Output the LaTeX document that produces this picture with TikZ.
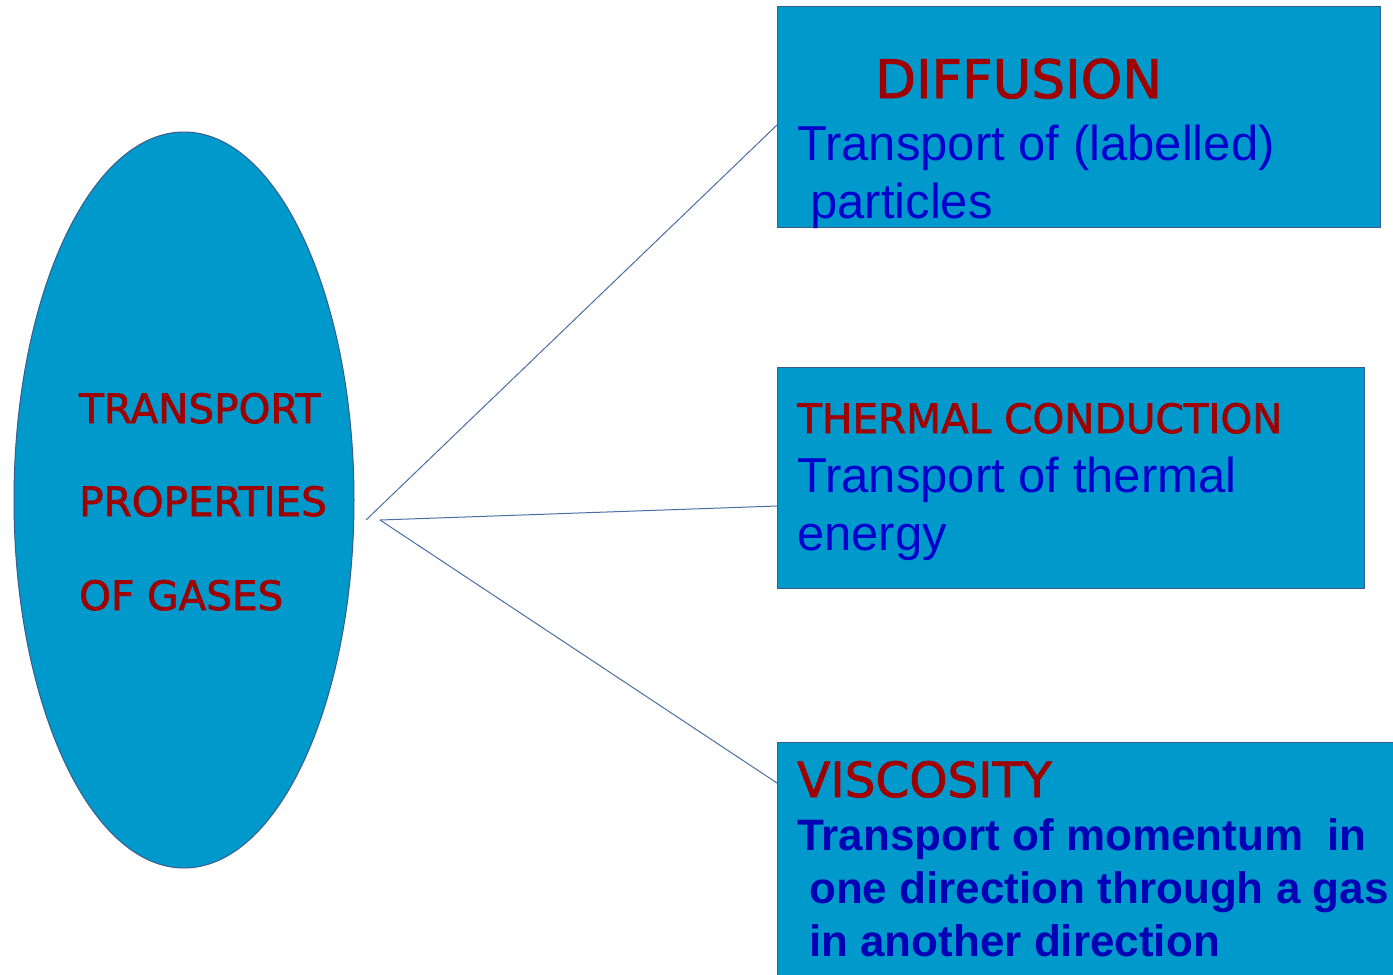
\documentclass[tikz,border=0pt]{standalone}
\usepackage{fontspec}
\setmainfont{Liberation Sans}
\newfontfamily\headfont[FakeBold=1.6]{DejaVu Sans}
\usetikzlibrary{shapes}
\usetikzlibrary{positioning}
\definecolor{boxblue}{RGB}{0,153,204}
\definecolor{edgeblue}{RGB}{56,93,138}
\definecolor{linkblue}{RGB}{74,111,165}
\definecolor{headred}{RGB}{160,0,0}
\definecolor{bodyblue}{RGB}{0,0,204}
\definecolor{boldblue}{RGB}{0,0,180}
\tikzset{
    propbox/.style = {rectangle, draw=edgeblue, fill=boxblue, line width=1pt, anchor=north west, inner sep=0pt},
    propoval/.style = {ellipse, draw=edgeblue, fill=boxblue, line width=1pt, inner sep=0pt},
    headtext/.style = {anchor=base west, inner sep=0pt, text=headred, font=\headfont\fontsize{#1}{#1}\selectfont},
    bodytext/.style = {anchor=base west, inner sep=0pt, text=bodyblue, font=\fontsize{49}{58}\selectfont},
    boldtext/.style = {anchor=base west, inner sep=0pt, text=boldblue, font=\bfseries\fontsize{44}{53}\selectfont},
    edgen/.style = {-, line width=1pt, linkblue}
}
\begin{document}
\begin{tikzpicture}[x=1pt,y=-1pt]
  \useasboundingbox[fill=white] (0,0) rectangle (1393,975);
  \clip (0,0) rectangle (1393,975);
  % central oval
  \node[propoval, minimum width=340, minimum height=736] (gas) at (184,500) {};
  \node[headtext=40.5] (t1) at (79,423) {TRANSPORT};
  \node[headtext=40.5] (t2) at (79,516) {PROPERTIES};
  \node[headtext=40.5] (t3) at (79,610) {OF GASES};
  % boxes
  \node[propbox, minimum width=603, minimum height=221] (diff) at (777,6) {};
  \node[propbox, minimum width=587, minimum height=221] (therm) at (777,367) {};
  \node[propbox, minimum width=640, minimum height=250] (visc) at (777,742) {};
  % diffusion
  \node[headtext=53] (dh) at ([shift={(98,92)}]diff.north west) {DIFFUSION};
  \node[bodytext] (d1) at ([shift={(20,154)}]diff.north west) {Transport of (labelled)};
  \node[bodytext] (d2) at ([shift={(33,212)}]diff.north west) {particles};
  % thermal conduction
  \node[headtext=40.5] (th) at ([shift={(20,66)}]therm.north west) {THERMAL CONDUCTION};
  \node[bodytext] (th1) at ([shift={(20,125)}]therm.north west) {Transport of thermal};
  \node[bodytext] (th2) at ([shift={(20,183)}]therm.north west) {energy};
  % viscosity
  \node[headtext=48.5] (vh) at ([shift={(20,55)}]visc.north west) {VISCOSITY};
  \node[boldtext] (v1) at ([shift={(20,108)}]visc.north west) {Transport of momentum\ \ in};
  \node[boldtext] (v2) at ([shift={(32,161)}]visc.north west) {one direction through a gas};
  \node[boldtext] (v3) at ([shift={(32,214)}]visc.north west) {in another direction};
  % connectors
  \coordinate (hubA) at (366,520);
  \coordinate (hubB) at (380,520);
  \coordinate (diffin) at ([shift={(0,119)}]diff.north west);
  \coordinate (thermin) at ([shift={(0,139)}]therm.north west);
  \coordinate (viscin) at ([shift={(0,41)}]visc.north west);
  \draw[edgen] (hubA) -- (diffin);
  \draw[edgen] (hubB) -- (thermin);
  \draw[edgen] (hubB) -- (viscin);
\end{tikzpicture}
\end{document}
